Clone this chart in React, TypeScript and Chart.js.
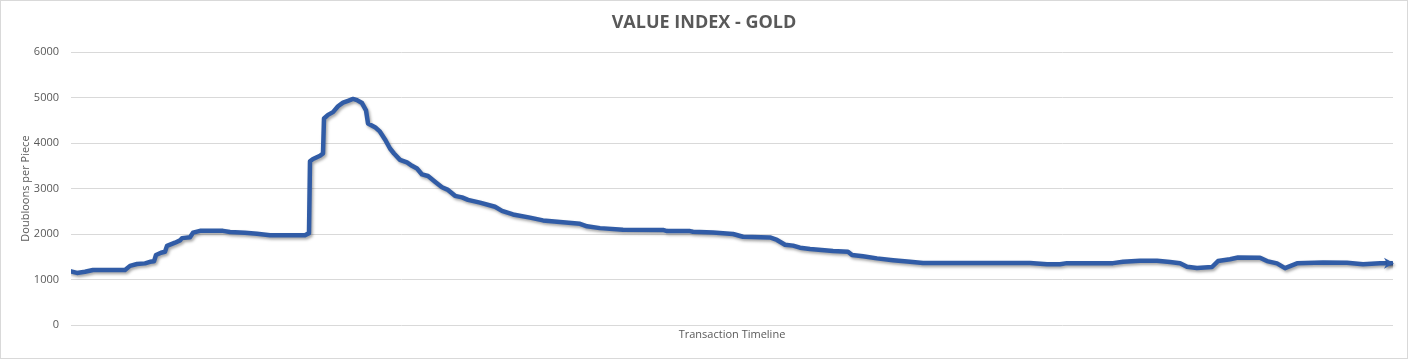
import { useEffect, useRef } from "react";
import { Chart, registerables } from "chart.js";

Chart.register(...registerables);

const chartTitle = "VALUE INDEX - GOLD";
const xAxisTitle = "Transaction Timeline";
const yAxisTitle = "Doubloons per Piece";
const yTickValues = [0, 1000, 2000, 3000, 4000, 5000, 6000];
const timelineMax = 1322;

// transaction number along the timeline
const transactions = [
  0, 6, 14, 22, 54, 59, 66, 74, 79, 83, 85, 90, 94, 96, 104, 109, 111, 119, 122, 129,
  152, 159, 174, 186, 199, 234, 238, 239, 242, 249, 252, 253, 257, 262, 267, 272,
  277, 282, 286, 291, 295, 297, 304, 309, 314, 319, 323, 329, 336, 341, 346, 351,
  357, 364, 371, 377, 384, 391, 397, 409, 424, 431, 442, 459, 472, 489, 509, 516,
  529, 552, 592, 596, 619, 622, 642, 662, 672, 699, 706, 714, 722, 729, 739, 762,
  777, 781, 792, 806, 822, 839, 852, 959, 976, 989, 996, 1042, 1052, 1069, 1086,
  1099, 1109, 1116, 1126, 1141, 1147, 1159, 1167, 1189, 1196, 1206, 1214, 1226,
  1252, 1276, 1292, 1309, 1321,
];

// doubloons per piece at each transaction
const prices = [
  1180, 1145, 1170, 1210, 1210, 1300, 1340, 1355, 1390, 1400, 1540, 1590, 1610, 1740, 1810, 1860, 1910, 1930, 2030, 2070,
  2070, 2045, 2030, 2005, 1975, 1975, 2020, 3600, 3650, 3720, 3770, 4540, 4620, 4680, 4810, 4890,
  4930, 4970, 4945, 4880, 4720, 4430, 4350, 4250, 4080, 3880, 3770, 3630, 3575, 3500, 3440, 3310,
  3275, 3150, 3030, 2970, 2840, 2805, 2750, 2690, 2600, 2510, 2430, 2360, 2300, 2265, 2225, 2170,
  2130, 2095, 2090, 2065, 2065, 2050, 2035, 2000, 1940, 1925, 1870, 1765, 1745, 1700, 1670, 1625,
  1610, 1540, 1510, 1465, 1425, 1390, 1365, 1365, 1335, 1335, 1360, 1360, 1390, 1415, 1415,
  1385, 1360, 1280, 1255, 1275, 1405, 1445, 1485, 1480, 1405, 1355, 1250, 1355,
  1375, 1370, 1335, 1355, 1355,
];

const lineColor = "#315CA6";
const gridColor = "#D9D9D9";
const textColor = "#595959";
const fontFamily = "'Open Sans', 'Noto Sans', sans-serif";

const borderPlugin = {
  id: "outerBorder",
  beforeDraw(chart: any) {
    const ctx = chart.ctx;
    ctx.save();
    ctx.fillStyle = "#FFFFFF";
    ctx.fillRect(0, 0, chart.width, chart.height);
    ctx.strokeStyle = "#D9D9D9";
    ctx.lineWidth = 1;
    ctx.strokeRect(0.5, 0.5, chart.width - 1, chart.height - 1);
    ctx.restore();
  },
};

const shadowPlugin = {
  id: "lineShadow",
  beforeDatasetsDraw(chart: any) {
    const ctx = chart.ctx;
    ctx.save();
    ctx.shadowColor = "rgba(0,0,0,0.35)";
    ctx.shadowBlur = 3;
    ctx.shadowOffsetX = 1.5;
    ctx.shadowOffsetY = 2;
  },
  afterDatasetsDraw(chart: any) {
    const ctx = chart.ctx;
    ctx.restore();
    const meta = chart.getDatasetMeta(0);
    const pts = meta.data;
    if (pts.length < 2) return;
    const a = pts[pts.length - 2];
    const b = pts[pts.length - 1];
    const ang = Math.atan2(b.y - a.y, b.x - a.x);
    const len = 10;
    const half = 5.5;
    const tipX = b.x + 2 * Math.cos(ang);
    const tipY = b.y + 2 * Math.sin(ang);
    const bx = tipX - len * Math.cos(ang);
    const by = tipY - len * Math.sin(ang);
    ctx.save();
    ctx.shadowColor = "rgba(0,0,0,0.35)";
    ctx.shadowBlur = 3;
    ctx.shadowOffsetX = 1.5;
    ctx.shadowOffsetY = 2;
    ctx.fillStyle = lineColor;
    ctx.beginPath();
    ctx.moveTo(tipX, tipY);
    ctx.lineTo(bx - half * Math.sin(ang), by + half * Math.cos(ang));
    ctx.lineTo(bx + 3 * Math.cos(ang), by + 3 * Math.sin(ang));
    ctx.lineTo(bx + half * Math.sin(ang), by - half * Math.cos(ang));
    ctx.closePath();
    ctx.fill();
    ctx.restore();
  },
};

export default function App() {
  const canvasRef = useRef<HTMLCanvasElement | null>(null);

  useEffect(() => {
    document.body.style.margin = "0";
    const canvas = canvasRef.current;
    if (!canvas) return;
    const chart = new Chart(canvas, {
      type: "line",
      data: {
        datasets: [
          {
            label: "Gold",
            data: transactions.map((t, i) => ({ x: t, y: prices[i] })),
            borderColor: lineColor,
            backgroundColor: lineColor,
            borderWidth: 4.5,
            pointRadius: 0,
            tension: 0,
            borderJoinStyle: "round",
            borderCapStyle: "round",
            fill: false,
          },
        ],
      },
      options: {
        animation: false,
        responsive: false,
        devicePixelRatio: 1,
        layout: { padding: { left: 15, right: 15, top: 0, bottom: 0 } },
        plugins: {
          legend: { display: false },
          tooltip: { enabled: false },
          title: {
            display: true,
            text: chartTitle,
            color: textColor,
            font: { family: fontFamily, size: 18, weight: "bold" },
            padding: { top: 12.5, bottom: 18 },
          },
        },
        scales: {
          x: {
            type: "linear",
            min: 0,
            max: timelineMax,
            grid: { display: false },
            border: { display: false },
            ticks: { display: false },
            title: {
              display: true,
              text: xAxisTitle,
              color: textColor,
              font: { family: fontFamily, size: 11 },
              padding: { top: 0, bottom: 17.4 },
            },
            afterFit: (scale: any) => {
              scale.height = 34;
            },
          },
          y: {
            min: 0,
            max: 6000,
            afterBuildTicks: (scale: any) => {
              scale.ticks = yTickValues.map((v) => ({ value: v }));
            },
            grid: { color: gridColor, lineWidth: 1, drawTicks: false },
            border: { display: false },
            ticks: {
              color: textColor,
              padding: 12,
              font: { family: fontFamily, size: 11 },
              callback: (v: any) => String(v),
            },
            title: {
              display: true,
              text: yAxisTitle,
              color: textColor,
              font: { family: fontFamily, size: 11 },
              padding: { top: 4.4, bottom: 0 },
            },
            afterFit: (scale: any) => {
              scale.width = 56;
            },
          },
        },
      },
      plugins: [borderPlugin, shadowPlugin],
    } as any);
    return () => chart.destroy();
  }, []);

  return (
    <div style={{ width: 1408, height: 359 }}>
      <canvas ref={canvasRef} width={1408} height={359} style={{ display: "block" }} />
    </div>
  );
}
